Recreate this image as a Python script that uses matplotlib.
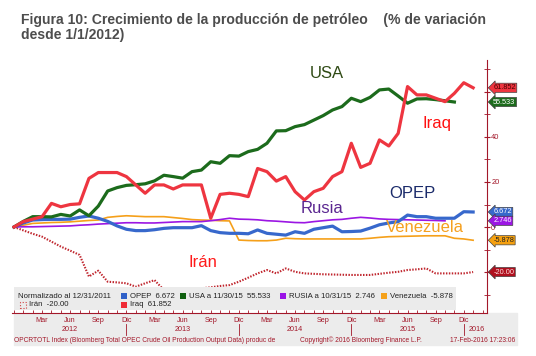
import numpy as np
import matplotlib.pyplot as plt
from matplotlib.patches import Rectangle
import matplotlib.transforms as mtrans

# valores en % de variacion desde 12/31/2011, uno por mes (0 = dic 2011)
opep = [0, 1.8, 3.1, 3.3, 3.4, 3.4, 3.5, 4.3, 4.9, 3.9,
        2.5, 0.5, -1.0, -1.6, -1.6, -1.2, -0.6, -0.3, -0.3, -0.3,
        0.6, -1.6, -2.5, -2.8, -2.8, -3.0, -1.3, -2.8, -3.2, -3.6,
        -2.1, -2.8, -1.0, -0.3, 0.4, -2.1, -2.0, -1.8, -0.5, 1.0,
        1.8, 2.4, 5.3, 4.6, 4.6, 3.9, 3.9, 3.9, 6.8, 6.672]
usa = [0, 2.5, 4.6, 4.6, 4.5, 5.6, 4.9, 7.6, 5.0, 9.3,
       16.0, 17.5, 18.5, 18.8, 19.2, 20.5, 23.0, 22.4, 21.7, 24.6,
       25.3, 29.0, 28.3, 31.7, 31.5, 33.5, 34.5, 37.2, 42.7, 42.8,
       44.6, 45.5, 47.5, 49.5, 52.0, 53.5, 57.2, 55.7, 57.6, 60.9,
       61.3, 58.2, 55.0, 56.9, 57.0, 56.6, 56.1, 55.533]
rusia = [0, 0.1, 0.1, 0.2, 0.3, 0.4, 0.5, 0.8, 1.0, 1.3,
         1.5, 1.7, 1.9, 1.9, 1.8, 1.8, 2.0, 2.2, 2.4, 2.4,
         2.4, 2.8, 3.3, 3.9, 3.5, 3.4, 3.2, 2.8, 2.6, 2.3,
         2.0, 1.9, 2.4, 2.8, 3.2, 3.4, 3.9, 4.3, 4.0, 3.6,
         3.4, 3.3, 3.2, 3.1, 3.0, 2.9, 2.746]
venezuela = [0, 0.8, 1.6, 1.8, 2.0, 2.1, 2.3, 2.6, 2.9, 3.1,
             4.3, 4.7, 5.0, 4.8, 4.6, 4.6, 4.6, 4.2, 3.8, 3.3,
             3.1, 3.0, 2.8, 2.7, -5.8, -6.0, -6.1, -6.1, -5.8, -5.0,
             -5.2, -5.3, -5.3, -5.3, -5.3, -5.3, -5.3, -5.3, -5.0, -4.6,
             -4.3, -4.2, -4.1, -4.0, -3.9, -3.9, -3.9, -5.0, -5.3, -5.878]
iraq = [0, 2.4, 3.5, 4.6, 10.5, 9.0, 10.0, 10.3, 21.6, 24.2,
        24.2, 24.2, 22.4, 18.7, 15.0, 18.7, 18.7, 16.9, 18.7, 18.7,
        18.7, 3.9, 14.5, 15.0, 14.5, 13.5, 26.0, 24.6, 20.4, 22.4,
        15.7, 12.0, 15.7, 17.2, 22.4, 24.6, 37.2, 26.5, 28.3, 38.7,
        36.0, 41.6, 62.4, 58.7, 58.7, 57.2, 55.7, 59.4, 64.1, 61.852]
iran = [0, -1.5, -3.0, -4.3, -6.5, -8.7, -10.5, -12.4, -22.0, -19.4,
        -24.3, -24.6, -25.0, -26.5, -25.0, -23.6, -28.0, -28.7, -28.2, -27.8,
        -27.2, -26.8, -26.2, -25.8, -24.3, -22.5, -20.6, -19.1, -20.6, -18.4,
        -19.9, -20.6, -20.8, -21.0, -21.1, -21.2, -21.3, -21.3, -21.3, -20.8,
        -20.3, -19.9, -19.1, -18.8, -18.4, -20.6, -20.6, -20.6, -20.6, -20.0]

# eje x
mes_nombres = ['Mar', 'Jun', 'Sep', 'Dic'] * 4
mes_pos = list(range(3, 49, 3))
anios = ['2012', '2013', '2014', '2015', '2016']
anio_pos = [6, 18, 30, 42, 48.5]
corte_pos = [12, 24, 36, 48]

# etiquetas de la derecha: (texto, valor, fondo, letra)
etiquetas = [('61.852', 61.852, '#ee3540', '#4a0000'),
             ('55.533', 55.533, '#1c6b1c', 'white'),
             ('6.672', 6.672, '#3768cc', 'white'),
             ('2.746', 2.746, '#9b16e3', 'white'),
             ('-5.878', -5.878, '#f5a00f', '#222222'),
             ('-20.00', -20.0, '#b0101e', '#ffe0e0')]

oscuro = '#a3182a'
plt.rcParams['font.family'] = ['Liberation Sans', 'DejaVu Sans']

fig = plt.figure(figsize=(5.36, 3.56), dpi=100)
ax = fig.add_axes([12/536, 1 - 313/356, 475/536, 253/356])

meses = np.arange(len(opep))
ax.plot(meses, iran, color='#c0262e', lw=1.5, ls=(0, (0.7, 0.7)), zorder=2)
ax.plot(meses, venezuela, color='#f5a01a', lw=1.2, zorder=2)
ax.plot(np.arange(len(rusia)), rusia, color='#9b16e3', lw=1.2, zorder=2)
ax.plot(meses, opep, color='#3768cc', lw=2.3, zorder=3)
ax.plot(np.arange(len(usa)), usa, color='#1c6b1c', lw=2.3, zorder=3)
ax.plot(meses, iraq, color='#ee3540', lw=2.3, zorder=3)

ax.set_xlim(-0.21, 50.48)
ax.set_ylim(-38.2, 74.2)

# nombres sobre las lineas
ax.text(33.4, 68.4, 'USA', color='#2f4a14', fontsize=12, ha='center', va='center')
ax.text(45.1, 45.8, 'Iraq', color='#ff1010', fontsize=12, ha='center', va='center')
ax.text(42.5, 15.1, 'OPEP', color='#1a2a6a', fontsize=12, ha='center', va='center')
ax.text(32.9, 8.4, 'Rusia', color='#5a2690', fontsize=12, ha='center', va='center')
ax.text(43.9, -0.4, 'Venezuela', color='#f5a020', fontsize=12, ha='center', va='center')
ax.text(20.2, -15.6, 'Irán', color='#ff1a1a', fontsize=12, ha='center', va='center')

# ejes estilo bloomberg
for s in ['top', 'left']:
    ax.spines[s].set_visible(False)
ax.spines['right'].set_color(oscuro)
ax.spines['bottom'].set_color(oscuro)
ax.yaxis.tick_right()
ax.set_yticks([-20, 0, 20, 40, 60])
ax.set_yticklabels(['', '0', '20', '40', ''])  # -20 y 60 quedan bajo las etiquetas
ax.set_yticks(range(-30, 71, 10), minor=True)
ax.tick_params(axis='y', which='both', direction='inout', length=4, color=oscuro,
               labelsize=5.4, labelcolor=oscuro, pad=1)
ax.set_xticks([])
ax.set_xticks(range(0, 51), minor=True)
ax.tick_params(axis='x', which='minor', direction='in', length=2, color=oscuro)

tr = mtrans.blended_transform_factory(ax.transAxes, ax.transData)
for txt, v, fc, tc in etiquetas:
    ax.text(1.013, v, txt, transform=tr, fontsize=5.3, color=tc, va='center', ha='left',
            clip_on=False, zorder=10,
            bbox=dict(boxstyle='larrow,pad=0.15', fc=fc, ec='#444444', lw=0.5))

# banda gris de abajo
fig.patches.append(Rectangle((14/536, 1 - 345/356), 503/536, 32/356,
                             transform=fig.transFigure, color='#ececec', zorder=-1))

trx = mtrans.blended_transform_factory(ax.transData, ax.transAxes)
for nom, p in zip(mes_nombres, mes_pos):
    ax.text(p, -0.028, nom, transform=trx, fontsize=5.2, color=oscuro, ha='center', va='center')
for a, p in zip(anios, anio_pos):
    ax.text(p, -0.064, a, transform=trx, fontsize=5.2, color=oscuro,
            ha='left' if a == '2016' else 'center', va='center')
for p in corte_pos:
    ax.plot([p, p], [-0.042, -0.085], transform=trx, color=oscuro, lw=0.6, clip_on=False)

ax.text(0.004, -0.108, 'OPCRTOTL Index (Bloomberg Total OPEC Crude Oil Production Output Data) produc de',
        transform=ax.transAxes, fontsize=4.8, color=oscuro, va='center')
ax.text(0.607, -0.108, 'Copyright\u00a9 2016 Bloomberg Finance L.P.', transform=ax.transAxes,
        fontsize=4.8, color=oscuro, va='center')
ax.text(1.06, -0.108, '17-Feb-2016 17:23:06', transform=ax.transAxes, fontsize=4.8,
        color=oscuro, va='center', ha='right')

# leyenda
ax.add_patch(Rectangle((2.4/475, 0.012), 441.6/475, 23/250, transform=ax.transAxes,
                       fc='#ebebeb', ec='none', zorder=5))
fila1 = 1 - (296 - 60) / 253
fila2 = 1 - (305 - 60) / 253
ax.text(6.5/475, fila1, 'Normalizado al 12/31/2011', transform=ax.transAxes, fontsize=5.6,
        color='#222222', va='center', zorder=6)
ley = [('OPEP  6.672', '#3060c8', 109, fila1),
       ('USA a 11/30/15  55.533', '#0f5f0f', 168, fila1),
       ('RUSIA a 10/31/15  2.746', '#9a13e6', 268, fila1),
       ('Venezuela  -5.878', '#f5a11a', 369, fila1),
       ('Iraq  61.852', '#ef2b36', 109, fila2)]
for txt, col, x0, fy in ley:
    ax.add_patch(Rectangle((x0/475, fy - 0.012), 6/475, 0.024, transform=ax.transAxes,
                           fc=col, ec='none', zorder=6))
    ax.text((x0 + 9)/475, fy, txt, transform=ax.transAxes, fontsize=5.6, color='#222222',
            va='center', zorder=6)
ax.add_patch(Rectangle((8/475, fila2 - 0.012), 6/475, 0.024, transform=ax.transAxes,
                       fc='none', ec='#d04040', ls=':', lw=0.8, zorder=6))
ax.text(17/475, fila2, 'Irán  -20.00', transform=ax.transAxes, fontsize=5.6, color='#222222',
        va='center', zorder=6)

# titulo
fig.text(21/536, 1 - 20/356, 'Figura 10: Crecimiento de la producción de petróleo    (% de variación',
         fontsize=10.1, fontweight='bold', color='#4d4d4d', va='center')
fig.text(21/536, 1 - 35/356, 'desde 1/1/2012)', fontsize=10.1, fontweight='bold',
         color='#4d4d4d', va='center')

fig.savefig('out.png', dpi=100)
